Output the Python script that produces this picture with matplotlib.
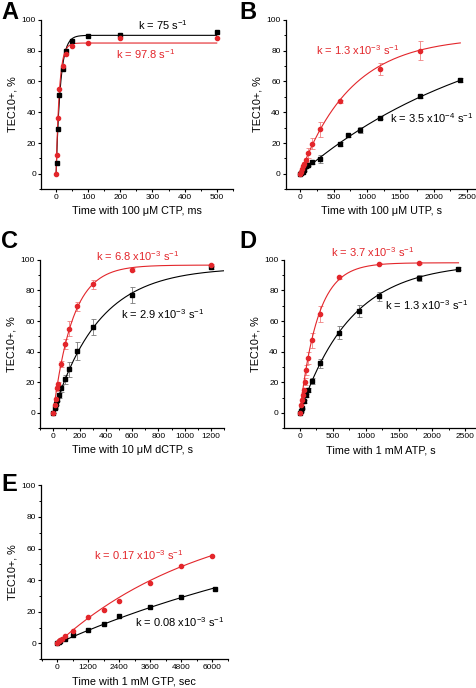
import numpy as np
import matplotlib
matplotlib.use('Agg')
import matplotlib.pyplot as plt
from matplotlib.ticker import MultipleLocator

plt.rcParams['font.family'] = ['Liberation Sans', 'DejaVu Sans']
plt.rcParams['mathtext.fontset'] = 'custom'
plt.rcParams['mathtext.rm'] = 'Liberation Sans'

RED = '#e3262b'
ERR_BLACK = '#7a7a7a'
ERR_RED = '#f08080'

# ---- panel A (ms) ----
a_t_black = [2, 5, 10, 20, 30, 50, 100, 200, 500]
a_y_black = [7, 29, 51, 68, 80, 86, 89.5, 90.5, 92]
a_t_red = [0, 2, 5, 10, 20, 30, 50, 100, 200, 500]
a_y_red = [0, 12, 36, 55, 70, 78, 83, 85, 88, 88]
a_fit = {'black': (90, 0.075, 500), 'red': (85, 0.0978, 500)}

# ---- panel B (s) ----
b_t_red = [0, 15, 30, 45, 60, 90, 120, 180, 300, 600, 1200, 1800]
b_y_red = [0, 1, 3, 5, 6.5, 9, 13.5, 19.5, 29, 47, 68, 80]
b_e_red = [0, 0.5, 0.5, 1, 1, 1.5, 3, 3.5, 5, 1, 4, 6]
b_t_black = [0, 15, 30, 45, 60, 90, 120, 180, 300, 600, 720, 900, 1200, 1800, 2400]
b_y_black = [0, 0.5, 1, 1.5, 2.5, 5, 6, 7.5, 9.5, 19.5, 25, 28.5, 36.5, 50.5, 61]
b_e_black = [0, 0, 0.5, 0.5, 0.5, 1, 1, 1, 2.5, 1.5, 1, 2, 1, 1, 1.5]
b_fit = {'black': (107, 3.5e-4, 2400), 'red': (89, 1.3e-3, 2400)}

# ---- panel C (s) ----
c_t_red = [0, 10, 20, 30, 40, 60, 90, 120, 180, 300, 600, 1200]
c_y_red = [0, 5, 9, 16, 19, 32, 45, 55, 69.5, 84, 93.5, 96.5]
c_e_red = [0, 1, 1, 1.5, 1.5, 2, 3, 5, 3, 3, 1, 1]
c_t_black = [0, 10, 20, 30, 45, 60, 90, 120, 180, 300, 600, 1200]
c_y_black = [0, 3, 6, 8.5, 11.5, 16, 22, 28.5, 40.5, 56, 77, 95]
c_e_black = [0, 0.5, 1, 1, 1.5, 2, 3, 5, 6, 5, 5.5, 1]
c_fit = {'black': (95, 2.9e-3, 1300), 'red': (96.5, 6.8e-3, 1200)}

# ---- panel D (s) ----
d_t_red = [0, 15, 30, 45, 60, 75, 90, 120, 180, 300, 600, 1200, 1800]
d_y_red = [0, 5, 8.5, 12, 15, 20.5, 28, 36, 47.5, 64.5, 88.5, 97.5, 98]
d_e_red = [0, 1, 1, 1.5, 1.5, 2, 3, 4, 5, 5, 1, 0.5, 0.5]
d_t_black = [0, 15, 30, 60, 90, 120, 180, 300, 600, 900, 1200, 1800, 2400]
d_y_black = [0, 1, 3, 7.5, 11.5, 15, 21, 32.5, 52.5, 66.5, 76, 88, 94]
d_e_black = [0, 0.5, 0.5, 1, 1, 1.5, 2, 3, 4, 4, 3, 2, 1]
d_fit = {'black': (98, 1.3e-3, 2400), 'red': (98, 3.7e-3, 2400)}

# ---- panel E (s) ----
e_t_red = [0, 60, 120, 180, 300, 600, 1200, 1800, 2400, 3600, 4800, 6000]
e_y_red = [0, 1.5, 2.5, 3, 4.5, 8, 16.5, 21, 27, 38, 49, 55.5]
e_t_black = [0, 60, 120, 300, 600, 1200, 1800, 2400, 3600, 4800, 6100]
e_y_black = [0, 1, 1.5, 3, 5.5, 8.5, 12.5, 17.5, 23, 29.5, 34.5]
e_fit = {'black': (91, 0.08e-3, 6100), 'red': (87, 0.17e-3, 6000)}

fig = plt.figure(figsize=(4.77, 6.88), dpi=100)

panels = [
    # letter, rect, xlim, xmaj, xmin, xlabel, data, fit, texts
    ('A', [0.086, 0.725, 0.402, 0.246], (-47, 550), 100, 50,
     'Time with 100 \u03bcM CTP, ms',
     (a_t_black, a_y_black, None, a_t_red, a_y_red, None), a_fit,
     [(255, 96.5, 'k = 75 s$^{-1}$', 'k'), (186, 78, 'k = 97.8 s$^{-1}$', RED)]),
    ('B', [0.599, 0.725, 0.401, 0.246], (-216, 2650), 500, 250,
     'Time with 100 \u03bcM UTP, s',
     (b_t_black, b_y_black, b_e_black, b_t_red, b_y_red, b_e_red), b_fit,
     [(237, 80.5, 'k = 1.3 x10$^{-3}$ s$^{-1}$', RED),
      (1353, 36.4, 'k = 3.5 x10$^{-4}$ s$^{-1}$', 'k')]),
    ('C', [0.084, 0.3775, 0.386, 0.245], (-100, 1300), 200, 100,
     'Time with 10 \u03bcM dCTP, s',
     (c_t_black, c_y_black, c_e_black, c_t_red, c_y_red, c_e_red), c_fit,
     [(329, 102.4, 'k = 6.8 x10$^{-3}$ s$^{-1}$', RED),
      (512, 64.6, 'k = 2.9 x10$^{-3}$ s$^{-1}$', 'k')]),
    ('D', [0.595, 0.3775, 0.405, 0.245], (-242, 2680), 500, 250,
     'Time with 1 mM ATP, s',
     (d_t_black, d_y_black, d_e_black, d_t_red, d_y_red, d_e_red), d_fit,
     [(474, 105, 'k = 3.7 x10$^{-3}$ s$^{-1}$', RED),
      (1292, 70.5, 'k = 1.3 x10$^{-3}$ s$^{-1}$', 'k')]),
    ('E', [0.086, 0.0417, 0.391, 0.253], (-630, 6600), 1200, 600,
     'Time with 1 mM GTP, sec',
     (e_t_black, e_y_black, None, e_t_red, e_y_red, None), e_fit,
     [(1421, 56, 'k = 0.17 x10$^{-3}$ s$^{-1}$', RED),
      (3012, 13.7, 'k = 0.08 x10$^{-3}$ s$^{-1}$', 'k')]),
]

for letter, rect, xlim, xmaj, xmin, xlabel, data, fit, texts in panels:
    ax = fig.add_axes(rect)
    tb, yb, eb, tr, yr, er = data
    for key, col in (('black', 'k'), ('red', RED)):
        amp, k, tend = fit[key]
        tt = np.linspace(0, tend, 400)
        ax.plot(tt, amp * (1 - np.exp(-k * tt)), color=col, lw=0.8, zorder=2)
    if eb is not None:
        ax.errorbar(tb, yb, yerr=eb, fmt='none', ecolor=ERR_BLACK,
                    elinewidth=0.6, capsize=1.8, capthick=0.6, zorder=1)
        ax.errorbar(tr, yr, yerr=er, fmt='none', ecolor=ERR_RED,
                    elinewidth=0.6, capsize=1.8, capthick=0.6, zorder=1)
    ax.plot(tb, yb, 's', color='k', ms=2.8, zorder=3)
    ax.plot(tr, yr, 'o', color=RED, ms=3.0, zorder=3)

    ax.xaxis.set_minor_locator(MultipleLocator(xmin))
    ax.yaxis.set_minor_locator(MultipleLocator(10))
    ax.set_xticks(np.arange(0, xlim[1] + 1, xmaj))
    ax.set_yticks([0, 20, 40, 60, 80, 100])
    ax.set_xlim(*xlim)
    ax.set_ylim(-10, 100)
    for s in ('top', 'right'):
        ax.spines[s].set_visible(False)
    for s in ('left', 'bottom'):
        ax.spines[s].set_linewidth(0.9)
    ax.tick_params(which='major', direction='out', length=2.5, width=0.8,
                   labelsize=6, pad=1.2)
    ax.tick_params(which='minor', direction='out', length=1.6, width=0.7)
    ax.set_xlabel(xlabel, fontsize=7.8, labelpad=3.5)
    ax.set_ylabel('TEC10+, %', fontsize=7.8, labelpad=3)
    for x, y, s, c in texts:
        ax.text(x, y, s, color=c, fontsize=8, ha='left', va='center',
                clip_on=False)

fig.text(0.002, 0.998, 'A', fontsize=17, fontweight='bold', va='top')
fig.text(0.501, 0.998, 'B', fontsize=17, fontweight='bold', va='top')
fig.text(0.002, 0.665, 'C', fontsize=17, fontweight='bold', va='top')
fig.text(0.501, 0.665, 'D', fontsize=17, fontweight='bold', va='top')
fig.text(0.002, 0.312, 'E', fontsize=17, fontweight='bold', va='top')

fig.savefig('out.png', dpi=100)
